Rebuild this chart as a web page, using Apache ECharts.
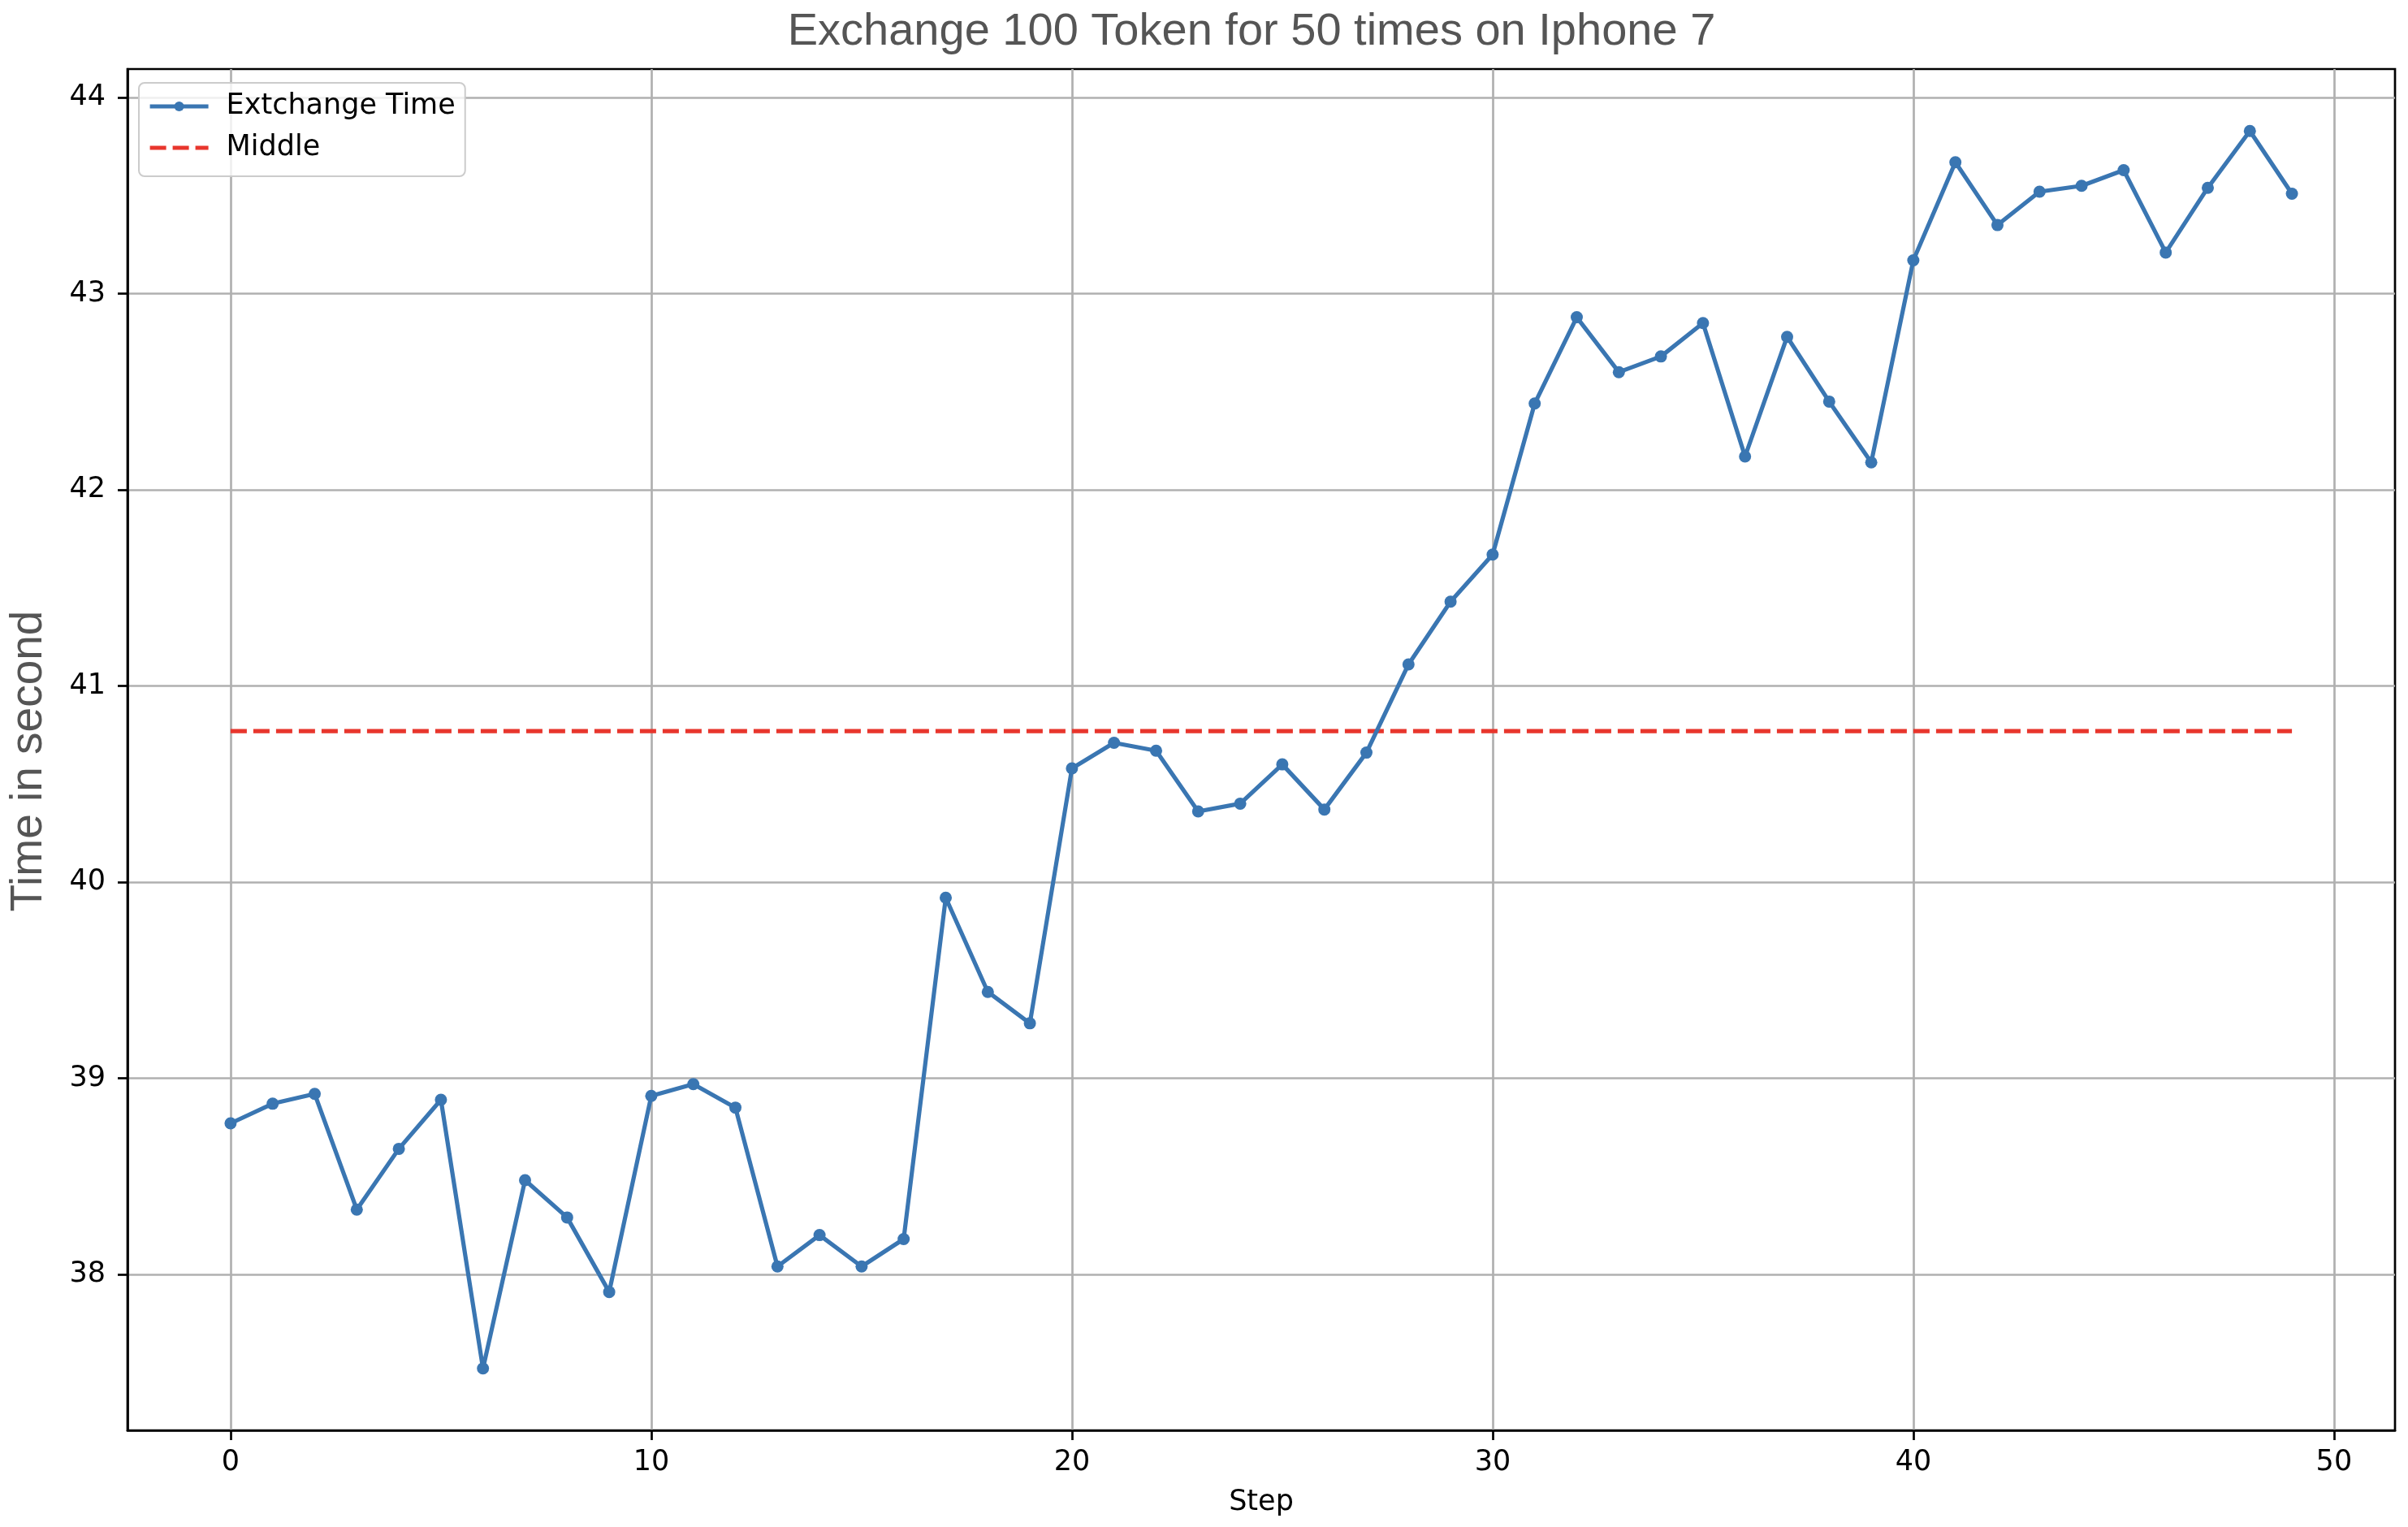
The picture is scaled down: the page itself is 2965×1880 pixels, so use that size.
<!DOCTYPE html>
<html>
<head>
<meta charset="utf-8">
<script src="https://cdn.jsdelivr.net/npm/echarts@6/dist/echarts.min.js"></script>
<style>
html,body{margin:0;padding:0;background:#fff;}
#chart{width:2965px;height:1880px;}
</style>
</head>
<body>
<div id="chart"></div>
<script>
// ---- data ----
const titleText = 'Exchange 100 Token for 50 times on Iphone 7';
const xName = 'Step';
const yName = 'Time in second';
const seriesNames = ['Extchange Time', 'Middle'];
const steps = [0,1,2,3,4,5,6,7,8,9,10,11,12,13,14,15,16,17,18,19,20,21,22,23,24,25,26,27,28,29,30,31,32,33,34,35,36,37,38,39,40,41,42,43,44,45,46,47,48,49];
const exchangeTime = [
  38.77, 38.87, 38.92, 38.33, 38.64, 38.89, 37.52, 38.48, 38.29, 37.91,
  38.91, 38.97, 38.85, 38.04, 38.20, 38.04, 38.18, 39.92, 39.44, 39.28,
  40.58, 40.71, 40.67, 40.36, 40.40, 40.60, 40.37, 40.66, 41.11, 41.43,
  41.67, 42.44, 42.88, 42.60, 42.68, 42.85, 42.17, 42.78, 42.45, 42.14,
  43.17, 43.67, 43.35, 43.52, 43.55, 43.63, 43.21, 43.54, 43.83, 43.51
];
const middleX = [0, 49];
const middleY = [40.77, 40.77];
const xTicks = [0, 10, 20, 30, 40, 50];
const yTicks = [38, 39, 40, 41, 42, 43, 44];

// ---- chart ----
const chart = echarts.init(document.getElementById('chart'), null, {renderer: 'canvas'});
const tickFont = 'DejaVu Sans';
const blue = '#3a76b2';
const red = '#e8362d';
const option = {
  animation: false,
  backgroundColor: '#ffffff',
  title: {
    text: titleText,
    left: 1541,
    top: 12,
    textAlign: 'center',
    padding: 0,
    textStyle: {fontFamily: 'Liberation Sans', fontSize: 56, fontWeight: 'normal', color: '#555555'}
  },
  legend: {
    orient: 'vertical',
    left: 171,
    top: 102,
    padding: [9, 12, 15, 11],
    itemGap: 11,
    itemWidth: 72,
    itemHeight: 15,
    borderColor: '#cccccc',
    borderWidth: 2,
    borderRadius: 7,
    backgroundColor: 'rgba(255,255,255,0.8)',
    lineStyle: {width: 5.2},
    textStyle: {fontFamily: tickFont, fontSize: 35, color: '#000', lineHeight: 40, padding: [0, 0, 0, 17]},
    data: [
      {name: seriesNames[0]},
      {name: seriesNames[1], itemStyle: {opacity: 0}}
    ]
  },
  grid: {
    left: 153, right: 16, top: 85, bottom: 119,
    show: true, borderColor: '#000', borderWidth: 2.7, backgroundColor: 'transparent'
  },
  xAxis: {
    type: 'value',
    min: -2.45, max: 51.45,
    name: xName,
    nameLocation: 'middle',
    nameGap: 71,
    nameTextStyle: {fontFamily: tickFont, fontSize: 35, color: '#000'},
    axisLine: {show: true, onZero: false, lineStyle: {color: '#000', width: 2.7}},
    axisTick: {show: true, length: 12, customValues: xTicks, lineStyle: {color: '#000', width: 2.7}},
    axisLabel: {customValues: xTicks, margin: 22, fontFamily: tickFont, fontSize: 35, color: '#000'},
    splitLine: {show: true, lineStyle: {color: '#b0b0b0', width: 2.7}}
  },
  yAxis: {
    type: 'value',
    min: 37.2045, max: 44.1455,
    name: yName,
    nameLocation: 'middle',
    nameRotate: 90,
    nameGap: 94,
    nameTextStyle: {fontFamily: 'Liberation Sans', fontSize: 55, color: '#555555', padding: [0, 28, 0, 0]},
    axisLine: {show: true, onZero: false, lineStyle: {color: '#000', width: 2.7}},
    axisTick: {show: true, length: 12, customValues: yTicks, lineStyle: {color: '#000', width: 2.7}},
    axisLabel: {customValues: yTicks, margin: 27, fontFamily: tickFont, fontSize: 35, color: '#000'},
    splitLine: {show: true, lineStyle: {color: '#b0b0b0', width: 2.7}}
  },
  series: [
    {
      name: seriesNames[0],
      type: 'line',
      data: steps.map((s, i) => [s, exchangeTime[i]]),
      symbol: 'circle',
      symbolSize: 15,
      showAllSymbol: true,
      lineStyle: {color: blue, width: 5.2},
      itemStyle: {color: blue},
      z: 3
    },
    {
      name: seriesNames[1],
      type: 'line',
      data: middleX.map((x, i) => [x, middleY[i]]),
      symbol: 'none',
      lineStyle: {color: red, width: 5.2, type: [20, 8]},
      itemStyle: {color: red},
      z: 2
    }
  ]
};
chart.setOption(option);
</script>
</body>
</html>
